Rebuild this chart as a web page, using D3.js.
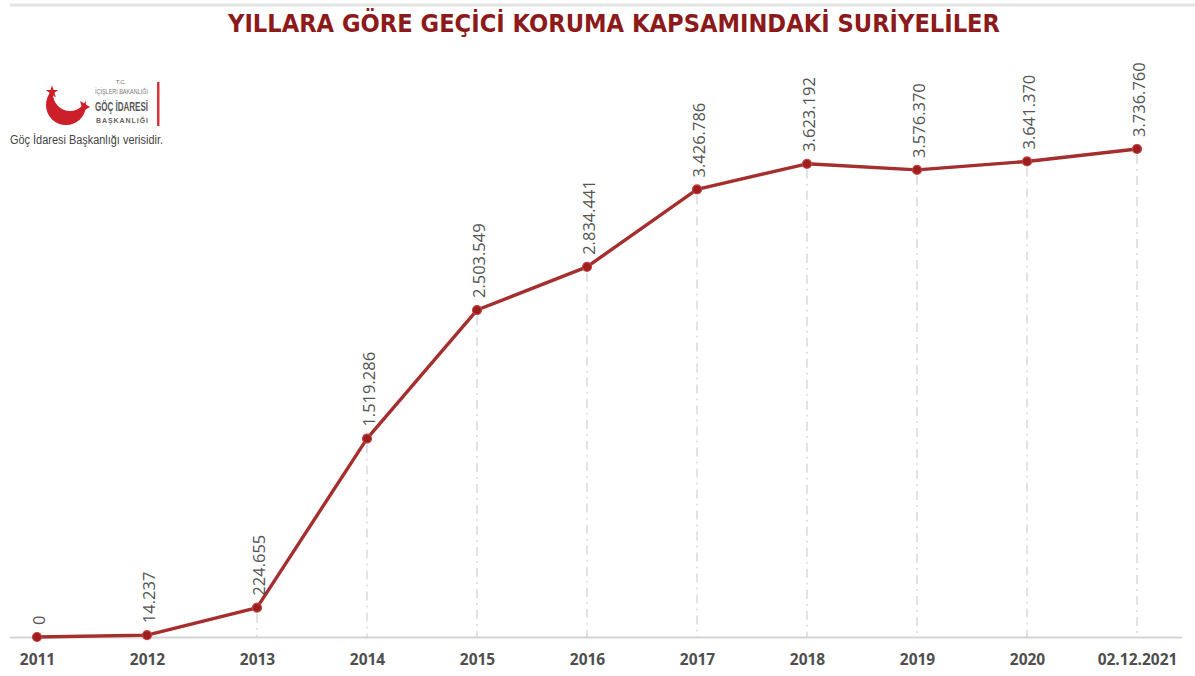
<!DOCTYPE html>
<html>
<head>
<meta charset="utf-8">
<script src="https://cdn.jsdelivr.net/npm/d3@7/dist/d3.min.js"></script>
<style>
  html, body { margin: 0; padding: 0; background: #fff; }
  svg { display: block; }
</style>
</head>
<body>
<svg id="chart" width="1195" height="676"></svg>
<script>
const categories = ["2011","2012","2013","2014","2015","2016","2017","2018","2019","2020","02.12.2021"];
const values = [0, 14237, 224655, 1519286, 2503549, 2834441, 3426786, 3623192, 3576370, 3641370, 3736760];
const valueLabels = ["0","14.237","224.655","1.519.286","2.503.549","2.834.441","3.426.786","3.623.192","3.576.370","3.641.370","3.736.760"];
const titleText = "YILLARA GÖRE GEÇİCİ KORUMA KAPSAMINDAKİ SURİYELİLER";
const sourceText = "Göç İdaresi Başkanlığı verisidir.";

const svg = d3.select("#chart");
const W = 1195, H = 676;

// top rule
svg.append("line").attr("x1", 10).attr("x2", W).attr("y1", 5).attr("y2", 5)
  .attr("stroke", "#e3e3e3").attr("stroke-width", 3);

// title
svg.append("text").attr("x", 614).attr("y", 32)
  .attr("text-anchor", "middle")
  .attr("font-family", "DejaVu Sans, Verdana, sans-serif")
  .attr("font-weight", "bold").attr("font-size", 24)
  .attr("textLength", 772).attr("lengthAdjust", "spacingAndGlyphs")
  .attr("fill", "#8c1a1a").text(titleText);

// scales
const x = d3.scalePoint().domain(categories).range([37, 1137]).padding(0);
const y = d3.scaleLinear().domain([0, 4000000]).range([637, 114.6]);

// baseline
svg.append("line").attr("x1", 10).attr("x2", 1182).attr("y1", y(0) + 0.5).attr("y2", y(0) + 0.5)
  .attr("stroke", "#d4d4d4").attr("stroke-width", 2);

const data = categories.map((c, i) => ({ c, v: values[i], l: valueLabels[i] }));

// drop lines
svg.append("g").selectAll("line").data(data.filter(d => d.v > 20000)).join("line")
  .attr("x1", d => x(d.c)).attr("x2", d => x(d.c))
  .attr("y1", d => y(d.v) + 6).attr("y2", y(0))
  .attr("stroke", "#d0d0d0").attr("stroke-width", 1.2)
  .attr("stroke-dasharray", "9,5,2,5");

// x axis labels
const axis = d3.axisBottom(x).tickSize(0).tickPadding(0);
const gAxis = svg.append("g").attr("transform", `translate(0, ${y(0) + 17})`).call(axis);
gAxis.select(".domain").remove();
gAxis.selectAll("text")
  .attr("font-family", "Open Sans, Liberation Sans, sans-serif")
  .attr("font-weight", "bold").attr("font-size", 15.5)
  .attr("fill", "#4f4f4f").attr("dy", "0.71em");

// line
const line = d3.line().x(d => x(d.c)).y(d => y(d.v));
svg.append("path").datum(data).attr("d", line)
  .attr("fill", "none").attr("stroke", "#a52e2e").attr("stroke-width", 3.4)
  .attr("stroke-linejoin", "round");

// markers
svg.append("g").selectAll("circle").data(data).join("circle")
  .attr("cx", d => x(d.c)).attr("cy", d => y(d.v)).attr("r", 4.5)
  .attr("fill", "#9e1d1d").attr("stroke", "#c24545").attr("stroke-width", 1.2);

// value labels
svg.append("g").selectAll("text").data(data).join("text")
  .attr("transform", d => `translate(${x(d.c) + 8}, ${y(d.v) - 12}) rotate(-90)`)
  .attr("text-anchor", "start")
  .attr("font-family", "Open Sans, Liberation Sans, sans-serif")
  .attr("font-size", 16.5).attr("fill", "#555")
  .text(d => d.l);

// logo
const logo = svg.append("g");
const defs = svg.append("defs");
const mask = defs.append("mask").attr("id", "cm");
mask.append("rect").attr("x", 0).attr("y", 0).attr("width", 200).attr("height", 200).attr("fill", "#fff");
mask.append("circle").attr("cx", 70).attr("cy", 94).attr("r", 17).attr("fill", "#000");
logo.append("circle").attr("cx", 66).attr("cy", 105).attr("r", 20).attr("fill", "#cc1f2a").attr("mask", "url(#cm)");
logo.append("path").attr("d", "M80,101 L90,107 L83,111 Z").attr("fill", "#cc1f2a");
const star = d3.symbol().type(d3.symbolStar).size(50);
logo.append("path").attr("d", star()).attr("transform", "translate(52,92)").attr("fill", "#cc1f2a");

logo.append("text").attr("x", 121).attr("y", 84).attr("text-anchor", "middle")
  .attr("font-family", "Liberation Sans Narrow, Liberation Sans, sans-serif").attr("font-size", 6).attr("fill", "#777").text("T.C.");
logo.append("text").attr("x", 95).attr("y", 94)
  .attr("font-family", "Liberation Sans Narrow, Liberation Sans, sans-serif").attr("font-size", 7).attr("fill", "#777")
  .attr("textLength", 53).attr("lengthAdjust", "spacingAndGlyphs").text("İÇİŞLERİ BAKANLIĞI");
logo.append("text").attr("x", 95).attr("y", 111)
  .attr("font-family", "Liberation Sans Narrow, Liberation Sans, sans-serif").attr("font-weight", "bold").attr("font-size", 13).attr("fill", "#555")
  .attr("textLength", 53).attr("lengthAdjust", "spacingAndGlyphs").text("GÖÇ İDARESİ");
logo.append("text").attr("x", 96).attr("y", 123)
  .attr("font-family", "Liberation Sans, sans-serif").attr("font-weight", "bold").attr("font-size", 7).attr("fill", "#666")
  .attr("textLength", 52).attr("lengthAdjust", "spacing").text("BAŞKANLIĞI");
logo.append("rect").attr("x", 157).attr("y", 82).attr("width", 2.5).attr("height", 44).attr("fill", "#d9343c");
logo.append("text").attr("x", 10).attr("y", 144)
  .attr("font-family", "Liberation Sans Narrow, Liberation Sans, sans-serif").attr("font-size", 12).attr("fill", "#444")
  .attr("textLength", 153).attr("lengthAdjust", "spacingAndGlyphs").text(sourceText);
</script>
</body>
</html>
